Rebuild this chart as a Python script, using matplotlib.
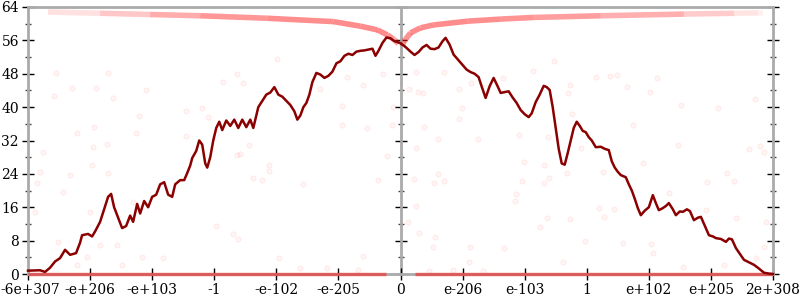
import matplotlib.pyplot as plt
from matplotlib.collections import LineCollection
from matplotlib.transforms import ScaledTranslation

# x is the bin position along the ordered float range (372 bins per side)
TICK_POS = [-372, -310, -248, -186, -124, -62, 0, 62, 124, 186, 248, 310, 372]
TICK_LABELS = ["-6e+307", "-e+206", "-e+103", "-1", "-e-102", "-e-205", "0",
               "e-206", "e-103", "1", "e+102", "e+205", "2e+308"]

# main curve: bits of precision per bin
bits_x = [-372, -360, -355, -350, -345, -340, -335, -330, -324, -320, -318, -312, -308,
          -305, -300, -296, -292, -289, -286, -282, -278, -274, -270, -267, -263, -260,
          -256, -252, -248, -244, -240, -236, -232, -228, -225, -220, -216, -213, -210,
          -208, -204, -201, -198, -195, -193, -190, -187, -184, -181, -178, -174, -170,
          -166, -162, -158, -154, -150, -147, -144, -142, -138, -134, -130, -126, -122,
          -118, -114, -110, -106, -103, -100, -97, -94, -91, -88, -84, -80, -76, -72, -68,
          -64, -60, -56, -52, -48, -44, -40, -36, -32, -28, -25, -22, -18, -14, -10, -6,
          -3, 0, 3, 6, 10, 14, 18, 22, 26, 30, 34, 38, 42, 45, 49, 53, 57, 62, 66, 70, 74,
          78, 81, 85, 89, 93, 97, 100, 104, 108, 112, 116, 120, 124, 128, 131, 135, 139,
          143, 146, 149, 152, 155, 158, 161, 164, 167, 170, 173, 176, 179, 182, 185, 188,
          191, 195, 200, 204, 208, 211, 214, 217, 220, 225, 228, 231, 234, 237, 240, 244,
          248, 252, 255, 258, 262, 265, 268, 272, 275, 279, 282, 286, 289, 293, 297, 300,
          304, 308, 312, 315, 320, 325, 328, 331, 335, 339, 343, 348, 353, 358, 363, 368,
          372]
bits_y = [0.8, 0.9, 0.5, 1.5, 3.0, 3.8, 5.8, 4.6, 5.0, 7.5, 9.3, 9.6, 9.0,
          10.2, 12.5, 15.5, 18.5, 19.2, 16.0, 13.5, 11.0, 11.5, 14.0, 12.5, 16.8, 14.5,
          17.5, 16.0, 18.5, 19.0, 21.5, 22.0, 19.0, 18.5, 21.5, 22.5, 22.5, 24.2, 26.0,
          27.8, 29.5, 32.0, 31.0, 26.5, 25.5, 28.0, 32.0, 35.0, 36.5, 34.5, 36.8, 35.5,
          37.0, 35.0, 37.0, 35.2, 37.0, 35.0, 38.0, 40.0, 41.5, 43.0, 43.5, 44.8, 43.0,
          42.5, 41.5, 40.5, 39.0, 37.0, 38.0, 40.0, 41.0, 43.0, 46.0, 48.2, 47.8, 47.0,
          47.5, 48.5, 50.5, 51.0, 52.3, 52.8, 52.5, 53.3, 53.5, 53.6, 53.8, 54.0, 52.3,
          53.5, 55.4, 56.7, 56.5, 55.8, 55.6, 55.3, 54.8, 54.2, 53.3, 52.5, 53.2, 54.3,
          54.9, 54.0, 53.9, 54.3, 55.8, 56.6, 55.0, 52.6, 51.5, 50.1, 49.0, 48.4, 48.0,
          47.2, 45.0, 42.2, 45.0, 47.0, 45.0, 43.4, 43.6, 43.8, 42.3, 41.0, 39.3, 38.3,
          37.6, 38.5, 41.2, 43.0, 45.1, 44.8, 44.1, 40.0, 35.0, 30.0, 26.5, 26.2, 29.0,
          32.0, 35.0, 36.5, 35.5, 34.3, 34.0, 32.8, 32.0, 30.4, 30.5, 30.0, 29.7, 27.0,
          25.5, 24.5, 23.7, 23.2, 21.5, 20.0, 18.0, 15.8, 14.1, 15.2, 16.0, 18.9, 17.0,
          15.3, 15.8, 16.3, 17.0, 15.5, 14.1, 15.0, 14.9, 15.5, 15.1, 12.9, 13.5, 13.7,
          11.5, 9.3, 9.0, 8.6, 8.4, 7.7, 8.5, 8.3, 6.2, 4.8, 3.4, 2.8, 2.2, 1.3, 0.3, 0.1,
          0.0]

# faint upper band (max bits per bin), with its visible strength
band_left_x = [-352, -300, -250, -200, -133, -67, -40, -23, -13, -7, -2]
band_left_y = [62.8, 62.5, 62.2, 61.9, 61.3, 60.5, 59.4, 58.5, 57.3, 56.3, 55.2]
band_left_a = [0.08, 0.18, 0.3, 0.42, 0.48, 0.5, 0.5, 0.5, 0.5, 0.45, 0.35]
band_right_x = [2, 3, 10, 20, 33, 67, 100, 133, 200, 283, 333, 357, 362]
band_right_y = [54.6, 55.6, 57.8, 59.0, 59.7, 60.6, 61.1, 61.5, 61.9, 62.3, 62.5, 62.6, 62.6]
band_right_a = [0.35, 0.45, 0.5, 0.5, 0.5, 0.5, 0.48, 0.45, 0.4, 0.3, 0.15, 0.08, 0.05]

# lower band (min bits per bin) sits on zero
low_x = [[-372, -14], [14, 372]]

# scattered faint samples
dots_x = [-344, -292, -328, -304, -346, -287, -254, -261, -214, -306, -323, -264, -293, -214,
          -307, -357, -360, -330, -308, -292, -363, -337, -267, -310, -365, -342, -300, -283,
          -313, -258, -237, -278, -323, -123, -163, -157, -177, -80, -53, -37, -17, -192, -198,
          -58, -58, -8, -7, -151, -33, -163, -160, -131, -131, -147, -138, -97, -13, -22, -184,
          -167, -162, -121, -37, -100, -73, -42, 15, 43, 132, 153, 70, 102, 195, 17, 22, 8, 58,
          169, 167, 61, 58, 171, 23, 118, 37, 77, 147, 15, 180, 13, 33, 37, 43, 15, 7, 18, 34,
          32, 69, 68, 103, 123, 143, 148, 143, 121, 115, 114, 146, 139, 169, 166, 184, 198, 162,
          28, 82, 52, 209, 216, 256, 226, 249, 280, 317, 354, 232, 277, 359, 348, 242, 326, 306,
          333, 363, 202, 213, 203, 268, 305, 335, 365, 222, 250, 282, 323, 355, 363, 252]
dots_y = [48.2, 48.2, 44.6, 44.6, 42.7, 42.2, 44.1, 37.9, 39.1, 35.2, 33.8, 33.8, 31.2, 33.1,
          30.4, 29.2, 24.4, 23.7, 26.1, 24.2, 21.8, 19.7, 17.3, 14.9, 14.9, 7.7, 7.0, 7.0, 4.1,
          4.1, 3.8, 2.2, 2.2, 51.5, 47.9, 45.8, 46.0, 44.3, 47.2, 45.3, 47.9, 37.6, 39.8, 40.3,
          35.7, 35.7, 40.0, 30.9, 35.0, 28.5, 28.8, 26.1, 24.7, 23.0, 22.5, 21.6, 28.3, 22.5,
          11.5, 9.6, 8.4, 3.8, 4.3, 1.4, 1.4, 1.0, 48.4, 48.4, 48.7, 51.0, 45.8, 47.0, 47.2,
          43.6, 43.4, 44.3, 44.3, 45.3, 43.4, 39.8, 37.2, 38.4, 35.2, 33.3, 32.4, 32.4, 32.8,
          30.2, 30.2, 22.8, 21.8, 24.0, 22.3, 16.3, 12.5, 9.8, 8.9, 6.5, 6.5, 2.9, 6.2, 26.8,
          26.1, 23.0, 21.8, 22.3, 19.2, 17.5, 13.4, 11.3, 13.2, 24.2, 7.9, 15.8, 2.9, 0.7, 0.7,
          1.0, 47.5, 47.7, 47.0, 44.8, 43.6, 40.5, 39.8, 41.9, 35.7, 30.9, 30.7, 30.0, 26.6,
          24.2, 22.1, 22.3, 29.2, 24.4, 15.6, 13.7, 19.4, 15.3, 13.4, 12.5, 7.4, 7.2, 1.7, 2.2,
          3.8, 6.5, 5.0]

Y_MAJOR = [0, 8, 16, 24, 32, 40, 48, 56, 64]
Y_MINOR = [4, 12, 20, 28, 36, 44, 52, 60]

plt.rcParams["font.family"] = "DejaVu Serif"

fig = plt.figure(figsize=(8, 3), dpi=100)
ax = fig.add_axes([28 / 800, 26 / 300, 745 / 800, 267 / 300])

ax.scatter(dots_x, dots_y, s=14, color=(1, 0, 0, 0.04), edgecolors=(1, 0, 0, 0.08),
           linewidths=0.6, zorder=1)

for bx, by, ba in [(band_left_x, band_left_y, band_left_a),
                   (band_right_x, band_right_y, band_right_a)]:
    pts = list(zip(bx, by))
    segs = [[pts[i], pts[i + 1]] for i in range(len(pts) - 1)]
    cols = [(1, 0.1, 0.1, (ba[i] + ba[i + 1]) / 2) for i in range(len(pts) - 1)]
    ax.add_collection(LineCollection(segs, colors=cols, linewidths=4,
                                     capstyle="butt", zorder=2))

for seg in low_x:
    ax.plot(seg, [0, 0], color=(1, 0.1, 0.1, 0.55), lw=2.5, clip_on=False, zorder=3,
            solid_capstyle="butt")

ax.plot(bits_x, bits_y, color="#8b0000", lw=1.8, zorder=4, clip_on=False)

ax.set_xlim(-372, 372)
ax.set_ylim(0, 64)

for s in ax.spines.values():
    s.set_color("#aaaaaa")
    s.set_linewidth(2)
ax.axvline(0, color="#aaaaaa", lw=2, zorder=0.5)

ax.set_xticks(TICK_POS)
ax.set_xticklabels(TICK_LABELS)
ax.set_yticks(Y_MAJOR)
ax.set_yticks(Y_MINOR, minor=True)
ax.tick_params(axis="both", which="major", direction="inout", length=9, width=1,
               color="black", labelsize=10, pad=2, right=True)
ax.tick_params(axis="y", which="minor", direction="inout", length=5, width=1,
               color="#444444", right=True)

# keep the first x label inside the canvas
first = ax.get_xticklabels()[0]
first.set_horizontalalignment("left")
first.set_transform(first.get_transform() + ScaledTranslation(-0.275, 0, fig.dpi_scale_trans))

mid = ax.secondary_yaxis(0.5)
mid.set_yticks(Y_MAJOR)
mid.set_yticks(Y_MINOR, minor=True)
mid.set_yticklabels([])
mid.spines["left"].set_visible(False)
mid.spines["right"].set_visible(False)
mid.tick_params(which="major", direction="inout", length=9, width=1, color="black")
mid.tick_params(which="minor", direction="inout", length=5, width=1, color="#444444")

fig.savefig("out.png", dpi=100)
